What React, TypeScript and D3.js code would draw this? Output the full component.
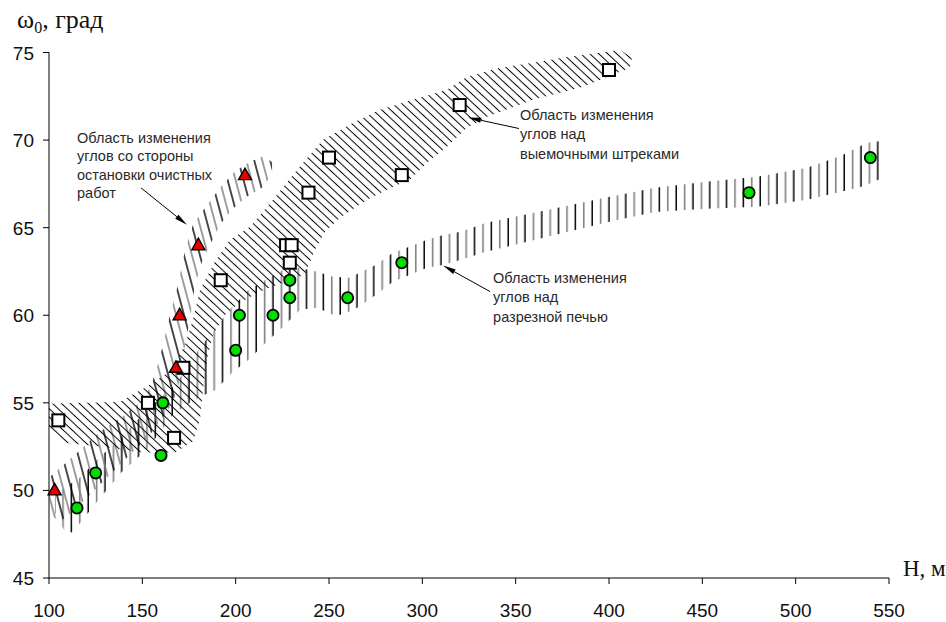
import React from 'react';
import * as d3 from 'd3';

type P = [number, number];

// Data points: H (m), omega0 (deg)
const squaresH = [105, 153, 167, 172, 192, 227, 230, 229, 239, 250, 289, 320, 400];
const squaresW = [54, 55, 53, 57, 62, 64, 64, 63, 67, 69, 68, 72, 74];
const circlesH = [115, 125, 160, 161, 200, 202, 220, 229, 229, 260, 289, 475, 540];
const circlesW = [49, 51, 52, 55, 58, 60, 60, 61, 62, 61, 63, 67, 69];
const trianglesH = [103, 168, 170, 180, 205];
const trianglesW = [50, 57, 60, 64, 68];

const xTicks = [100, 150, 200, 250, 300, 350, 400, 450, 500, 550];
const yTicks = [45, 50, 55, 60, 65, 70, 75];

// Band over workings (squares) - diagonal hatch
const sqUpper: P[] = [[100,54.95],[138,55.06],[154.1,56.03],[165.9,56.89],[172.9,58.31],[177.1,59.75],[180.9,61.46],[188.9,63.06],[197,64.31],[207.7,65.05],[220,66.59],[232.9,68.31],[246.8,70.02],[262.9,70.99],[277.3,71.73],[295,72.3],[313.2,72.87],[323.9,73.61],[341.6,74.13],[359.3,74.41],[377.5,74.75],[395.2,74.98],[405.9,75.15],[412.3,74.7]];
const sqLower: P[] = [[100,53.36],[107,52.73],[128.9,52.5],[150.4,52.16],[167.5,52.16],[177.1,52.79],[180.9,54.04],[182.5,55.76],[184.6,57.47],[187.9,58.9],[194.3,60.03],[202.3,60.72],[213,61.35],[229.1,62.03],[237.1,62.31],[242.5,63.74],[247.9,64.77],[255.9,65.57],[270.4,66.59],[284.3,67.34],[293.4,67.74],[302.5,68.71],[313.2,69.62],[323.9,70.71],[334.6,71.33],[359.3,72.3],[386.1,73.05],[411.2,74.13]];

// Band from stop of works (triangles) - steep hatch
const trLeft: P[] = [[100,50.72],[113.9,52.04],[127.3,53.35],[140.7,54.32],[151.4,55.29],[156.8,56.6],[161.1,58.31],[164.8,60.03],[169.1,61.74],[172.9,63.74],[177.1,65.17],[183.6,66.14],[191.6,67.28],[199.6,68.2],[207.7,68.77],[214.1,69.05],[219.5,68.77]];
const trRight: P[] = [[100.5,48.62],[105.9,48.22],[113.9,48.9],[124.6,50.04],[138,51.47],[154.1,53.18],[165.9,54.9],[170.2,56.33],[172.9,58.31],[175.5,59.75],[178.2,61.74],[182,63.06],[186.3,64.03],[191.6,65.17],[198,66.02],[205,66.71],[214.1,67.28],[219.5,68.03]];

// Band over cut (circles) - vertical hatch
const vTop: P[] = [[103.2,49.75],[117.1,50.78],[125.7,51.75],[139.1,53.06],[152.5,54.6],[167.5,56.0],[180.9,58.16],[189.5,59.3],[198,60.44],[207.1,61.46],[216.2,62.03],[225.4,62.6],[234.5,62.71],[243.6,62.48],[252.1,62.2],[261.8,62.14],[266.1,62.43],[275.2,62.88],[284.3,63.57],[293.4,63.92],[302.5,64.31],[311.6,64.6],[320.7,64.77],[334.1,65.28],[397.9,66.71],[424.6,67.28],[452,67.62],[479.3,67.9],[506.1,68.42],[524.3,69.1],[538.2,69.85],[546.8,69.96]];
const vBot: P[] = [[103.2,48.72],[108,47.76],[112.3,47.6],[117.1,48.2],[125.7,49.36],[139.1,51.07],[152.5,52.33],[166.4,54.33],[175.5,55.0],[180.9,55.35],[189.5,55.75],[198,56.72],[207.1,57.47],[216.2,58.44],[225.4,59.35],[234.5,60.32],[243.6,60.43],[252.1,60.03],[257.5,60.03],[266.1,60.49],[275.2,61.17],[284.3,61.91],[293.4,62.31],[302.5,62.71],[311.6,62.88],[320.7,63.17],[334.1,63.62],[397.9,65.28],[424.6,65.9],[452,66.08],[479.3,66.19],[506.1,66.59],[524.3,67.05],[533.4,67.28],[538.2,67.45],[546.8,67.85]];

const note1 = ['Область изменения', 'углов со стороны', 'остановки очистных', 'работ'];
const note2 = ['Область изменения', 'углов над', 'выемочными штреками'];
const note3 = ['Область изменения', 'углов над', 'разрезной печью'];

export default function App() {
  const x = d3.scaleLinear().domain([100, 550]).range([49, 889]);
  const y = d3.scaleLinear().domain([45, 75]).range([578, 52.5]);
  const line = d3.line<P>().x(d => x(d[0])).y(d => y(d[1]));
  const poly = (a: P[], b: P[]) => (line([...a, ...b.slice().reverse()]) || '') + 'Z';

  const sans = '"Liberation Sans", Arial, sans-serif';
  const serif = '"Liberation Serif", "Times New Roman", serif';

  const arrow = (from: P, to: P, key: string) => {
    const x1 = x(from[0]), y1 = y(from[1]), x2 = x(to[0]), y2 = y(to[1]);
    const dx = x2 - x1, dy = y2 - y1, L = Math.hypot(dx, dy);
    const ux = dx / L, uy = dy / L;
    const hl = 13, hw = 2.6;
    const bx = x2 - ux * hl, by = y2 - uy * hl;
    const head = `M${x2},${y2}L${bx - uy * hw},${by + ux * hw}L${bx + uy * hw},${by - ux * hw}Z`;
    return (
      <g key={key}>
        <line x1={x1} y1={y1} x2={bx} y2={by} stroke="#000" strokeWidth={1} />
        <path d={head} fill="#000" />
      </g>
    );
  };

  const note = (lines: string[], at: P, key: string, lh: number) => (
    <text key={key} x={x(at[0])} y={y(at[1])} fontFamily={sans} fontSize={14.5} fill="#2a2a2a">
      {lines.map((t, i) => (
        <tspan key={i} x={x(at[0])} dy={i === 0 ? 0 : lh}>{t}</tspan>
      ))}
    </text>
  );

  return (
    <svg width={946} height={622} style={{ position: 'absolute', left: 0, top: 0, background: '#fff' }}>
      <defs>
        <pattern id="hatchV" patternUnits="userSpaceOnUse" width={16.8} height={20}>
          <line x1={4.2} y1={0} x2={4.2} y2={20} stroke="#000" strokeWidth={1.5} />
          <line x1={12.6} y1={0} x2={12.6} y2={20} stroke="#808080" strokeWidth={1.6} />
        </pattern>
        <pattern id="hatchT" patternUnits="userSpaceOnUse" width={15.4} height={20} patternTransform="rotate(-15)">
          <line x1={3.85} y1={0} x2={3.85} y2={20} stroke="#000" strokeWidth={1.4} />
          <line x1={11.55} y1={0} x2={11.55} y2={20} stroke="#808080" strokeWidth={1.5} />
        </pattern>
        <pattern id="hatchS" patternUnits="userSpaceOnUse" width={6.1} height={20} patternTransform="rotate(-47)">
          <line x1={3.05} y1={0} x2={3.05} y2={20} stroke="#000" strokeWidth={1} />
        </pattern>
      </defs>

      {/* hatched bands */}
      <path d={poly(vTop, vBot)} fill="url(#hatchV)" />
      <path d={poly(trLeft, trRight)} fill="url(#hatchT)" />
      <path d={poly(sqUpper, sqLower)} fill="url(#hatchS)" />

      {/* axes */}
      <g stroke="#000" strokeWidth={1} fill="none">
        <line x1={x(100)} y1={y(75)} x2={x(100)} y2={y(45)} />
        <line x1={x(100)} y1={y(45)} x2={x(550)} y2={y(45)} />
        {yTicks.map(t => (
          <line key={'yt' + t} x1={x(100) - 6} y1={y(t)} x2={x(100)} y2={y(t)} />
        ))}
        {xTicks.map(t => (
          <line key={'xt' + t} x1={x(t)} y1={y(45)} x2={x(t)} y2={y(45) + 6} />
        ))}
      </g>
      <g fontFamily={sans} fontSize={19} fill="#111">
        {yTicks.map(t => (
          <text key={'yl' + t} x={x(100) - 15} y={y(t) + 7} textAnchor="end">{t}</text>
        ))}
        {xTicks.map(t => (
          <text key={'xl' + t} x={x(t)} y={y(45) + 39} textAnchor="middle">{t}</text>
        ))}
      </g>

      {/* axis titles */}
      <text x={17} y={28} fontFamily={serif} fontSize={26} fill="#111">
        ω<tspan fontSize={16} dy={5}>0</tspan><tspan dy={-5}>, град</tspan>
      </text>
      <text x={903} y={576} fontFamily={serif} fontSize={23} fill="#111">H, м</text>

      {/* markers */}
      {squaresH.map((h, i) => (
        <rect key={'s' + i} x={x(h) - 6} y={y(squaresW[i]) - 6} width={12} height={12}
          fill="#fff" stroke="#000" strokeWidth={2} />
      ))}
      {circlesH.map((h, i) => (
        <circle key={'c' + i} cx={x(h)} cy={y(circlesW[i])} r={5.6}
          fill="#00e000" stroke="#000" strokeWidth={1.8} />
      ))}
      {trianglesH.map((h, i) => {
        const cx = x(h), cy = y(trianglesW[i]);
        return (
          <path key={'t' + i} d={`M${cx},${cy - 7}L${cx + 6.5},${cy + 4.5}L${cx - 6.5},${cy + 4.5}Z`}
            fill="#e80000" stroke="#000" strokeWidth={1.4} strokeLinejoin="miter" />
        );
      })}

      {/* annotations */}
      {note(note1, [115, 69.85], 'n1', 18.5)}
      {note(note2, [352.3, 71.17], 'n2', 19.5)}
      {note(note3, [337.9, 61.85], 'n3', 19.5)}
      {arrow([149.3, 67.27], [173.9, 65.16], 'a1')}
      {arrow([351.8, 70.66], [324.5, 71.29], 'a2')}
      {arrow([336.3, 61.35], [311.1, 62.84], 'a3')}
    </svg>
  );
}
